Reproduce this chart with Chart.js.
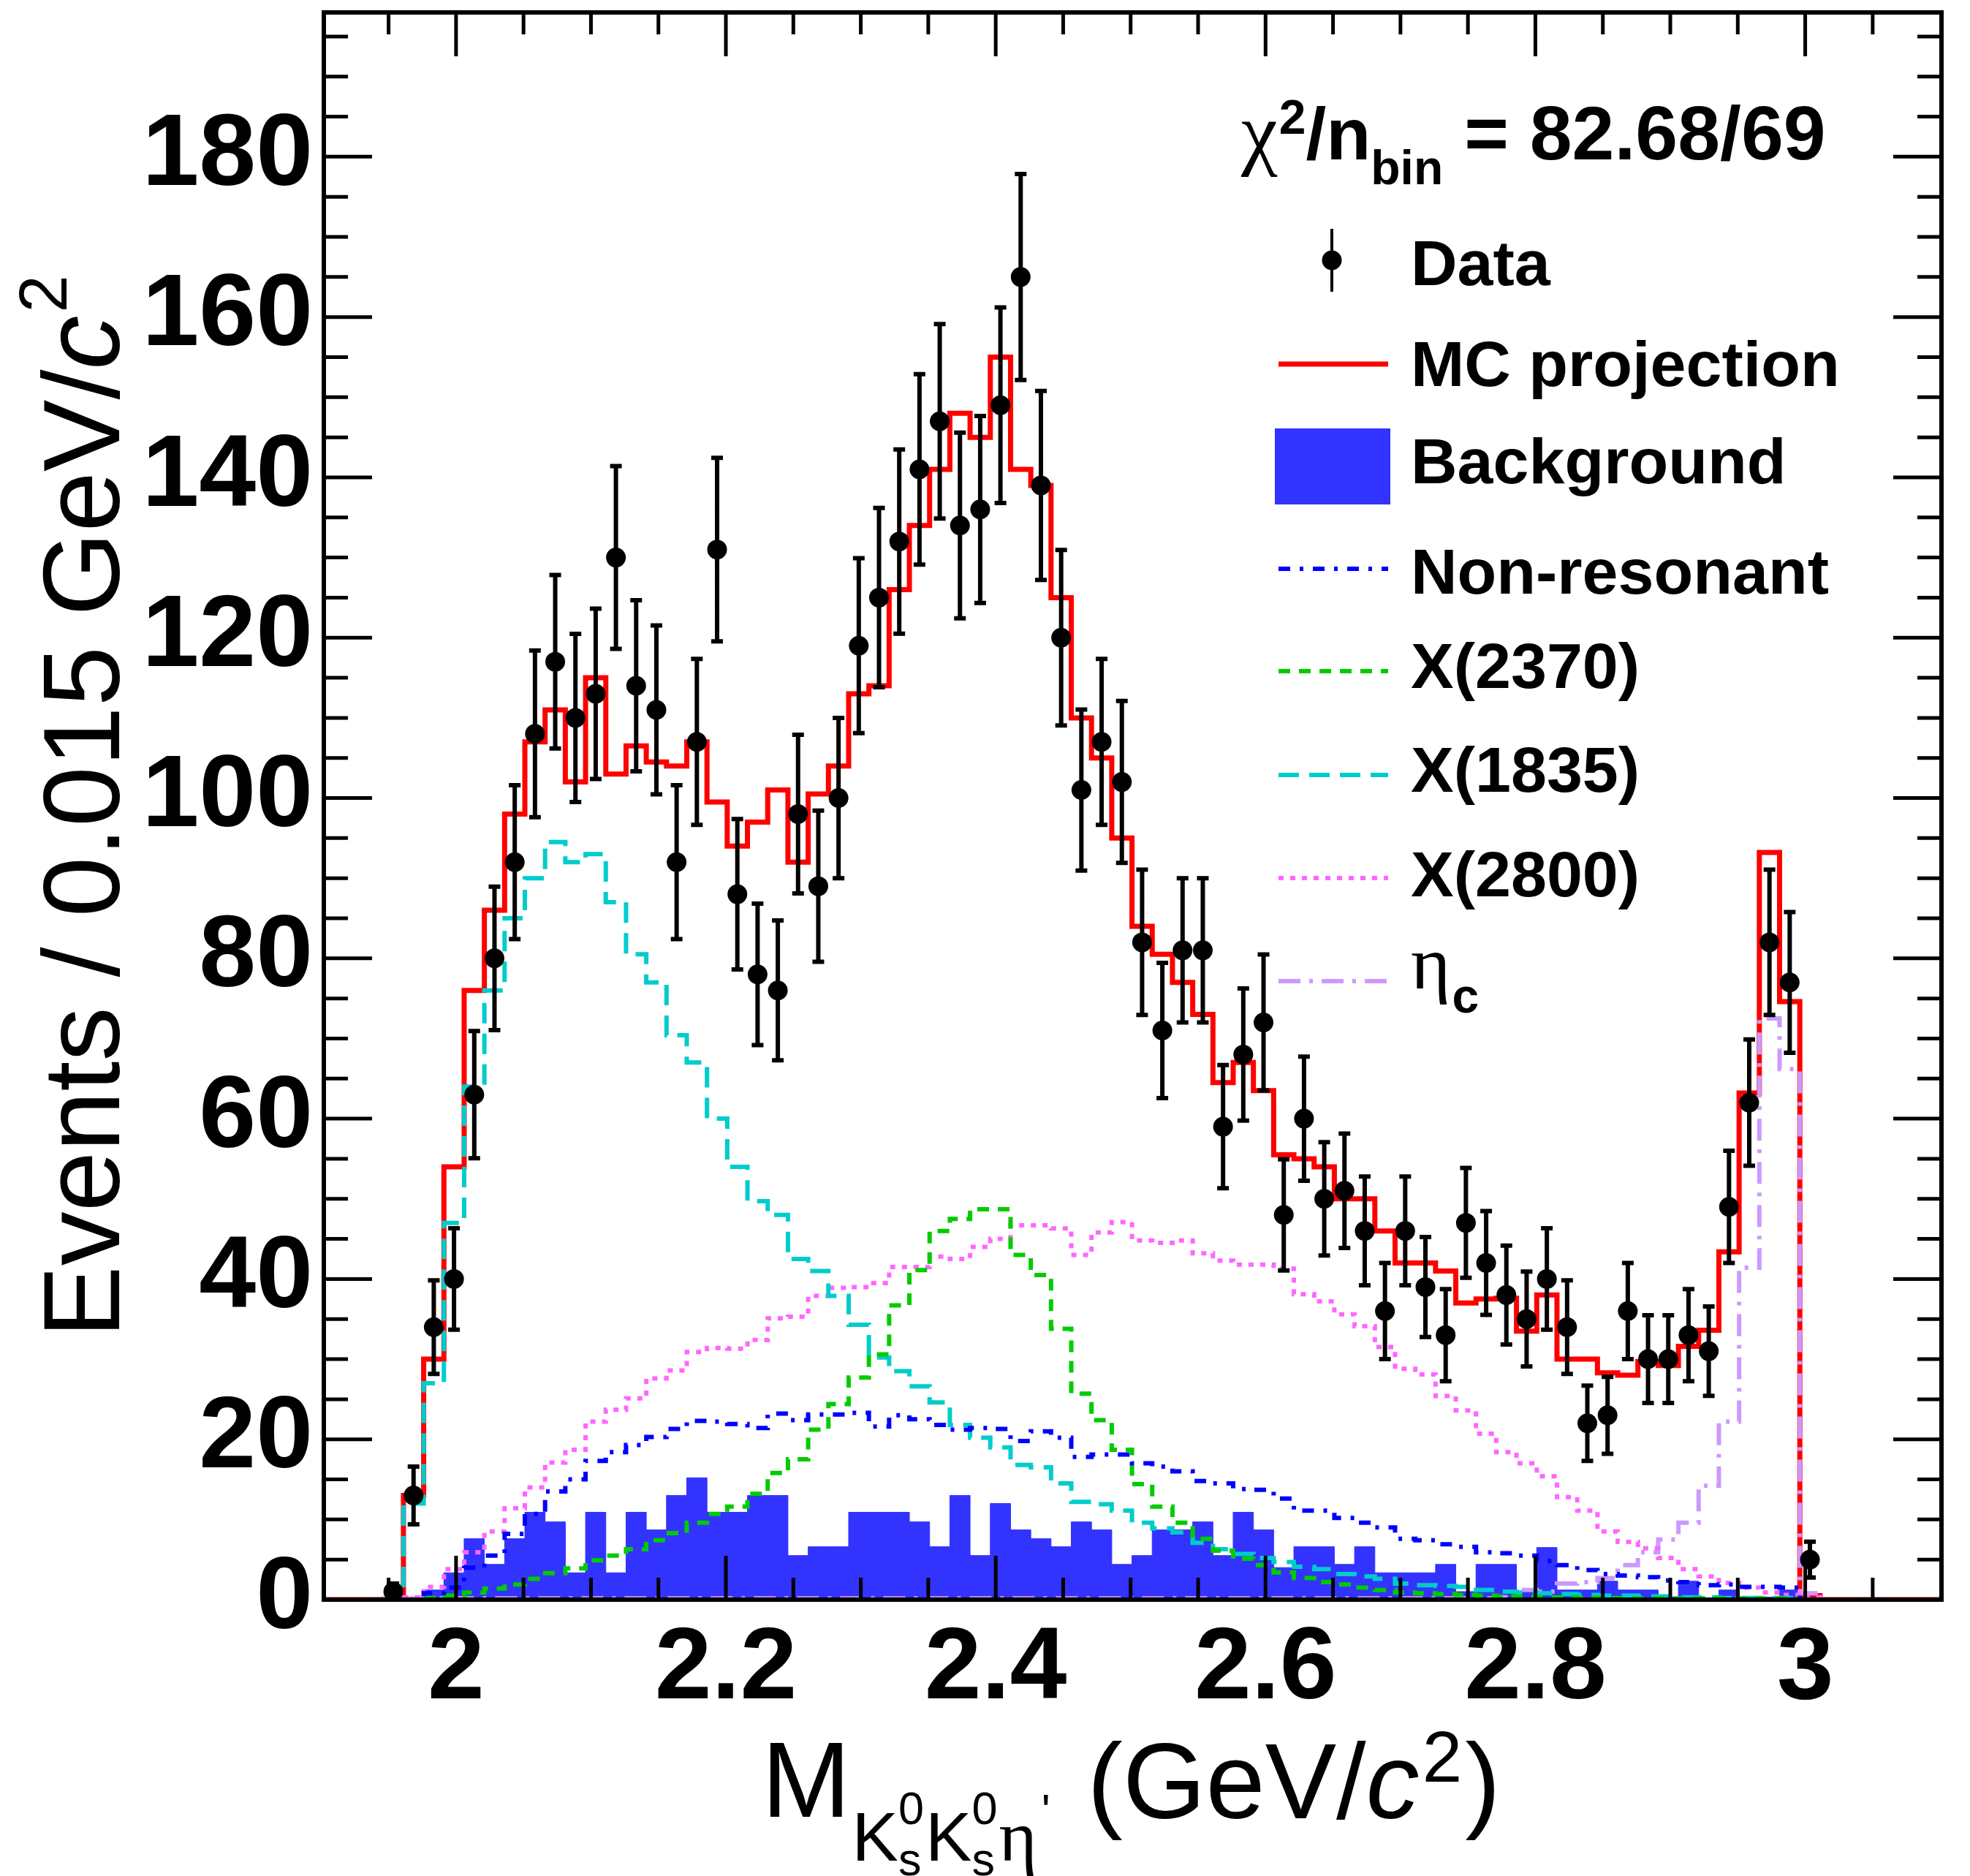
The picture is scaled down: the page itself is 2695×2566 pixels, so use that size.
<!DOCTYPE html>
<html lang="en">
<head>
<meta charset="utf-8">
<title>M(KsKs eta') fit projection</title>
<script src="https://cdn.jsdelivr.net/npm/chart.js@4.4.1/dist/chart.umd.min.js"></script>
<style>
  html, body { margin: 0; padding: 0; background: #ffffff; }
  #holder { width: 2695px; height: 2566px; }
</style>
</head>
<body>
<div id="holder"><canvas id="massChart" width="2695" height="2566"></canvas></div>
<script>
// binning of the histogram (GeV/c^2)
const binStart = 1.946;
const binWidth = 0.015;
const xMin = 1.902, xMax = 3.101;
const yMin = 0, yMax = 198;

// events per bin (71 bins from 1.946)
const dataCounts = [1, 13, 34, 40, 63, 80, 92, 108, 117, 110,
    113, 130, 114, 111, 92, 107, 131, 88, 78, 76,
    98, 89, 100, 119, 125, 132, 141, 147, 134, 136,
    149, 165, 139, 120, 101, 107, 102, 82, 71, 81,
    81, 59, 68, 72, 48, 60, 50, 51, 46, 36,
    46, 39, 33, 47, 42, 38, 35, 40, 34, 22,
    23, 36, 30, 30, 33, 31, 49, 62, 82, 77,
    5];

const mcProjection = [0, 13, 30, 54, 76, 86, 98, 107, 111, 102,
    115, 103, 106.5, 104.5, 104, 107, 99.5, 94, 97, 101,
    92, 100.5, 104, 113, 114, 126, 134, 141, 148, 145,
    155, 141, 139, 125, 110, 105, 95, 84, 80.5, 77,
    73, 64.5, 67, 63.5, 55.5, 55, 54, 50, 50, 46,
    42, 42, 41, 37, 37.5, 37.6, 33.5, 38, 30, 30,
    28.3, 28, 29.7, 29.2, 31.6, 33.6, 43.4, 63.2, 93.2, 74.6,
    0.5];

const background = [0, 0, 1.2, 3.35, 7.6, 4.4, 7.6, 10.9, 9.7, 3.35,
    10.9, 3.35, 10.9, 8.7, 13, 15.2, 10.9, 10.9, 13, 13,
    5.5, 6.6, 6.6, 10.9, 10.9, 10.9, 9.7, 6.6, 13, 5.5,
    12, 8.7, 7.6, 6.6, 9.7, 8.7, 4.4, 5.5, 8.7, 8.7,
    9.7, 5.5, 10.9, 8.7, 4, 6.6, 6.6, 4.4, 6.6, 3.35,
    3.35, 3.35, 4.4, 1, 4.4, 4.4, 1, 6.5, 1.2, 1.2,
    2.3, 1.2, 1.2, 0.3, 2.3, 0.2, 1.2, 0.3, 0.3, 1.2,
    0];

const nonResonant = [0, 0, 0.8, 1.5, 4, 5.5, 8.2, 10.7, 13.5, 15,
    17.3, 18.4, 19.3, 20.3, 21.3, 22.3, 22.2, 21.9, 21.4, 23.2,
    22.4, 23.1, 23.1, 23.3, 21.6, 23, 22.5, 21.8, 21.2, 21.4,
    21.3, 19.8, 21, 20.2, 17.8, 18.1, 18.1, 17, 16.6, 16,
    14.8, 14.5, 13.8, 13.7, 12.6, 11.1, 11.1, 10.2, 9.6, 9,
    7.6, 7.4, 6.9, 6.6, 5.9, 5.8, 5.5, 4.8, 4.3, 3.7,
    3.2, 3, 2.8, 2.4, 2.2, 1.8, 1.9, 1.6, 1.6, 1.5,
    0];

const x2370 = [0, 0, 0.2, 0.5, 0.9, 1.4, 1.9, 2.6, 3.3, 3.9,
    4.9, 5.5, 6.3, 7.4, 8.3, 9.6, 10.7, 11.6, 13.2, 15.8,
    17.5, 21.2, 24.4, 27.7, 30.6, 36.7, 41.1, 46, 47.5, 48.7,
    48.7, 43, 40.5, 33.8, 25.7, 22.4, 18.7, 14.4, 11.6, 9.6,
    7.6, 6.1, 5.1, 4.3, 3.4, 2.7, 2.2, 1.9, 1.5, 1.2,
    0.9, 0.8, 0.7, 0.6, 0.5, 0.4, 0.35, 0.3, 0.3, 0.25,
    0.2, 0.15, 0.15, 0.15, 0.15, 0.15, 0.15, 0.15, 0.15, 0.15,
    0];

const x1835 = [0, 12, 27, 47, 64, 76, 85, 90, 94.5, 92,
    93, 87, 80.5, 77, 70.4, 67, 60, 54, 49.7, 48,
    42.5, 41, 37.9, 34.3, 30.2, 28.5, 26.6, 24.6, 21.8, 20.2,
    19, 16.8, 16.5, 14.5, 12.2, 11.9, 11.1, 9.6, 8.9, 8.4,
    7.1, 6.3, 5.7, 5.2, 4.7, 4.1, 3.8, 3.2, 2.9, 2.6,
    2, 1.8, 1.7, 1.6, 1.2, 1, 0.9, 0.8, 0.7, 0.6,
    0.5, 0.5, 0.4, 0.4, 0.3, 0.3, 0.2, 0.2, 0.2, 0.2,
    0];

const x2800 = [0, 0.3, 1.6, 3.8, 5.9, 8.5, 11.4, 14, 17.1, 18.7,
    22.2, 23.7, 25.1, 27.6, 28.6, 30.9, 31.4, 31.3, 32.4, 35.1,
    35.3, 37.9, 38.9, 39, 39.5, 41.5, 41.5, 42.8, 42.5, 44,
    45, 46.7, 46.7, 46.3, 43, 45.8, 47.1, 44.8, 44.5, 44.8,
    43.2, 42.3, 41.8, 41.8, 41.3, 38.1, 37.2, 35.6, 34.1, 31.5,
    28.8, 28.1, 25.4, 23.6, 20.7, 18.4, 17, 15.4, 12.8, 11.1,
    8.5, 7.2, 6.4, 5.2, 3.8, 2.9, 2.1, 1.5, 0.9, 0.6,
    0.3];

const etaC = [0.15, 0.15, 0.15, 0.15, 0.15, 0.15, 0.15, 0.15, 0.15, 0.15,
    0.15, 0.15, 0.15, 0.15, 0.15, 0.15, 0.15, 0.15, 0.15, 0.15,
    0.15, 0.15, 0.15, 0.15, 0.15, 0.15, 0.15, 0.15, 0.15, 0.15,
    0.15, 0.15, 0.15, 0.15, 0.15, 0.15, 0.15, 0.15, 0.15, 0.15,
    0.15, 0.15, 0.15, 0.15, 0.15, 0.15, 0.15, 0.15, 0.15, 0.15,
    0.15, 0.15, 0.15, 0.15, 0.15, 0.3, 1.2, 1, 2, 2.2,
    2.7, 4.3, 5.9, 7.5, 9.6, 14.2, 22.2, 41.4, 72.5, 66.2,
    0.8];

const xTicks = [2, 2.2, 2.4, 2.6, 2.8, 3];
const xMinorTicks = [1.95, 2.05, 2.1, 2.15, 2.25, 2.3, 2.35, 2.45, 2.5, 2.55,
    2.65, 2.7, 2.75, 2.85, 2.9, 2.95, 3.05];
const yTicks = [0, 20, 40, 60, 80, 100, 120, 140, 160, 180];
const yMinorTicks = [];
for (let v = 5; v < yMax; v += 5) if (v % 20 !== 0) yMinorTicks.push(v);

const legendLabels = ['Data', 'MC projection', 'Background', 'Non-resonant',
    'X(2370)', 'X(1835)', 'X(2800)', 'η'];

const sans = '"Liberation Sans", Arial, Helvetica, sans-serif';
const serif = '"Liberation Serif", "DejaVu Serif", serif';

function binEdge(i) { return +(binStart + i * binWidth).toFixed(4); }
function binCenter(i) { return binEdge(i) + binWidth / 2; }

// histogram outline: low edges of each bin, closed back to zero on both sides
function stepPoints(values) {
    const pts = [{ x: xMin, y: 0 }];
    values.forEach((v, i) => pts.push({ x: binEdge(i), y: v }));
    pts.push({ x: binEdge(values.length), y: 0 });
    pts.push({ x: xMax, y: 0 });
    return pts;
}

function histLine(label, values, color, width, dash, order) {
    return {
        label: label, data: stepPoints(values), stepped: 'before',
        borderColor: color, borderWidth: width, borderDash: dash,
        pointRadius: 0, pointHoverRadius: 0, fill: false, order: order
    };
}

const datasets = [
    {
        label: 'Data',
        data: dataCounts.map((v, i) => ({ x: binCenter(i), y: v })),
        showLine: false, pointRadius: 13.5, pointHoverRadius: 13.5,
        pointBackgroundColor: '#000', pointBorderColor: '#000', pointBorderWidth: 0,
        order: 0
    },
    histLine('MC projection', mcProjection, '#ff0000', 7, [], 2),
    {
        label: 'Background', data: stepPoints(background), stepped: 'before',
        borderColor: 'rgb(51,51,255)', borderWidth: 1, backgroundColor: 'rgb(51,51,255)',
        fill: 'origin', pointRadius: 0, pointHoverRadius: 0, order: 3
    },
    histLine('Non-resonant', nonResonant, '#0000ff', 6, [16, 13, 5, 13], 1),
    histLine('X(2370)', x2370, '#00cc00', 6, [16, 12], 1),
    histLine('X(1835)', x1835, '#00cccc', 6, [28, 14], 1),
    histLine('X(2800)', x2800, '#ff66ff', 6, [7, 9], 1),
    histLine('eta_c', etaC, '#cc99ff', 6, [30, 12, 5, 12], 1)
];

function txt(ctx, s, x, y, font) {
    ctx.font = font;
    ctx.fillText(s, x, y);
    return x + ctx.measureText(s).width;
}

const rootStyle = {
    id: 'rootStyle',
    beforeDatasetDraw(chart, args) {
        if (args.index !== 0) return;
        const { ctx, scales: { x, y } } = chart;
        ctx.save();
        ctx.strokeStyle = '#000';
        ctx.lineWidth = 6;
        ctx.beginPath();
        dataCounts.forEach((v, i) => {
            const err = Math.sqrt(v);
            const px = x.getPixelForValue(binCenter(i));
            const lo = y.getPixelForValue(Math.max(v - err, 0));
            const hi = y.getPixelForValue(v + err);
            ctx.moveTo(px, lo); ctx.lineTo(px, hi);
            ctx.moveTo(px - 8, lo); ctx.lineTo(px + 8, lo);
            ctx.moveTo(px - 8, hi); ctx.lineTo(px + 8, hi);
        });
        ctx.stroke();
        ctx.restore();
    },
    afterDraw(chart) {
        const { ctx, chartArea: a, scales: { x, y } } = chart;
        ctx.save();
        ctx.strokeStyle = '#000';
        ctx.fillStyle = '#000';
        ctx.setLineDash([]);

        // inward ticks on all four sides
        ctx.lineWidth = 5;
        ctx.beginPath();
        const xTick = (v, len) => {
            const px = x.getPixelForValue(v);
            ctx.moveTo(px, a.bottom); ctx.lineTo(px, a.bottom - len);
            ctx.moveTo(px, a.top); ctx.lineTo(px, a.top + len);
        };
        const yTick = (v, len) => {
            const py = y.getPixelForValue(v);
            ctx.moveTo(a.left, py); ctx.lineTo(a.left + len, py);
            ctx.moveTo(a.right, py); ctx.lineTo(a.right - len, py);
        };
        xTicks.forEach(v => xTick(v, 60));
        xMinorTicks.forEach(v => xTick(v, 30));
        yTicks.forEach(v => yTick(v, 66));
        yMinorTicks.forEach(v => yTick(v, 33));
        ctx.stroke();

        // frame
        ctx.lineWidth = 6;
        ctx.strokeRect(a.left, a.top, a.right - a.left, a.bottom - a.top);

        // axis titles
        ctx.textAlign = 'left';
        ctx.textBaseline = 'alphabetic';
        const big = '146px ' + sans;
        const mid = '95px ' + sans;
        const small = '63px ' + sans;
        let cx = 1042;
        cx = txt(ctx, 'M', cx, 2485, big);
        for (let n = 0; n < 2; n++) {
            cx = txt(ctx, 'K', cx + 2, 2545, mid);
            ctx.font = small;
            const w = Math.max(ctx.measureText('0').width, ctx.measureText('s').width);
            txt(ctx, '0', cx, 2495, small);
            txt(ctx, 's', cx, 2565, small);
            cx += w;
        }
        cx = txt(ctx, 'η', cx + 2, 2545, '100px ' + serif);
        cx = txt(ctx, '\'', cx + 6, 2498, small);
        cx = txt(ctx, ' (GeV/', cx + 10, 2487, big);
        cx = txt(ctx, 'c', cx, 2487, 'italic ' + big);
        cx = txt(ctx, '2', cx + 4, 2437, '98px ' + sans);
        txt(ctx, ')', cx + 4, 2487, big);

        ctx.save();
        ctx.translate(163, 1830);
        ctx.rotate(-Math.PI / 2);
        let p = txt(ctx, 'Events / 0.015 GeV/', 0, 0, '148px ' + sans);
        p = txt(ctx, 'c', p, 0, 'italic 148px ' + sans);
        txt(ctx, '2', p + 4, -72, '92px ' + sans);
        ctx.restore();

        // chi2 line
        const bold = 'bold 100px ' + sans;
        let qx = 1698;
        qx = txt(ctx, 'χ', qx, 218, '112px ' + serif);
        qx = txt(ctx, '2', qx + 2, 183, 'bold 66px ' + sans);
        qx = txt(ctx, '/n', qx, 218, bold);
        qx = txt(ctx, 'bin', qx, 252, 'bold 66px ' + sans);
        txt(ctx, ' = 82.68/69', qx, 218, 'bold 104px ' + sans);

        // legend
        const lx0 = 1749, lx1 = 1899, tx = 1930;
        const symY = [356, 498, 638, 778, 918, 1060, 1201, 1342];
        const baseY = [390, 528, 661, 812, 941, 1083, 1226, 1352];
        const legFont = 'bold 88px ' + sans;
        const byLabel = {};
        chart.data.datasets.forEach(ds => { byLabel[ds.label] = ds; });
        const lineKeys = [null, 'MC projection', null, 'Non-resonant', 'X(2370)', 'X(1835)', 'X(2800)', 'eta_c'];

        legendLabels.forEach((lab, i) => {
            if (i === 0) {
                ctx.lineWidth = 4;
                ctx.beginPath();
                ctx.moveTo(1822, symY[0] - 43); ctx.lineTo(1822, symY[0] + 43);
                ctx.stroke();
                ctx.beginPath();
                ctx.arc(1822, symY[0], 13.5, 0, Math.PI * 2);
                ctx.fill();
            } else if (i === 2) {
                ctx.fillStyle = byLabel['Background'].backgroundColor;
                ctx.fillRect(1744, 586, 158, 104);
                ctx.fillStyle = '#000';
            } else {
                const ds = byLabel[lineKeys[i]];
                ctx.save();
                ctx.strokeStyle = ds.borderColor;
                ctx.lineWidth = ds.borderWidth;
                ctx.setLineDash(ds.borderDash || []);
                ctx.beginPath();
                ctx.moveTo(lx0, symY[i]); ctx.lineTo(lx1, symY[i]);
                ctx.stroke();
                ctx.restore();
            }
            if (i === 7) {
                const ex = txt(ctx, lab, tx, baseY[i], '104px ' + serif);
                txt(ctx, 'c', ex + 2, baseY[i] + 33, 'bold 66px ' + sans);
            } else {
                txt(ctx, lab, tx, baseY[i], legFont);
            }
        });
        ctx.restore();
    }
};

const ctx = document.getElementById('massChart').getContext('2d');
const massChart = new Chart(ctx, {
    type: 'line',
    data: { datasets: datasets },
    options: {
        responsive: false,
        animation: false,
        devicePixelRatio: 1,
        events: [],
        layout: { padding: { top: 17, right: 39, left: 0, bottom: 0 } },
        plugins: { legend: { display: false }, tooltip: { enabled: false } },
        scales: {
            x: {
                type: 'linear', min: xMin, max: xMax,
                afterFit: s => { s.height = 378; s.paddingLeft = 0; s.paddingRight = 0; },
                afterBuildTicks: s => { s.ticks = xTicks.map(v => ({ value: v })); },
                grid: { display: false, drawTicks: false },
                border: { display: false },
                ticks: {
                    color: '#000', padding: 26, maxRotation: 0, autoSkip: false,
                    font: { family: sans, size: 140, weight: 'bold', lineHeight: 1 },
                    callback: v => String(+v.toFixed(1))
                }
            },
            y: {
                type: 'linear', min: yMin, max: yMax,
                afterFit: s => { s.width = 443; s.paddingTop = 0; s.paddingBottom = 0; },
                afterBuildTicks: s => { s.ticks = yTicks.map(v => ({ value: v })); },
                grid: { display: false, drawTicks: false },
                border: { display: false },
                ticks: {
                    color: '#000', padding: 15, autoSkip: false,
                    font: { family: sans, size: 140, weight: 'bold', lineHeight: 1 },
                    callback: v => String(v)
                }
            }
        }
    },
    plugins: [rootStyle]
});
</script>
</body>
</html>
